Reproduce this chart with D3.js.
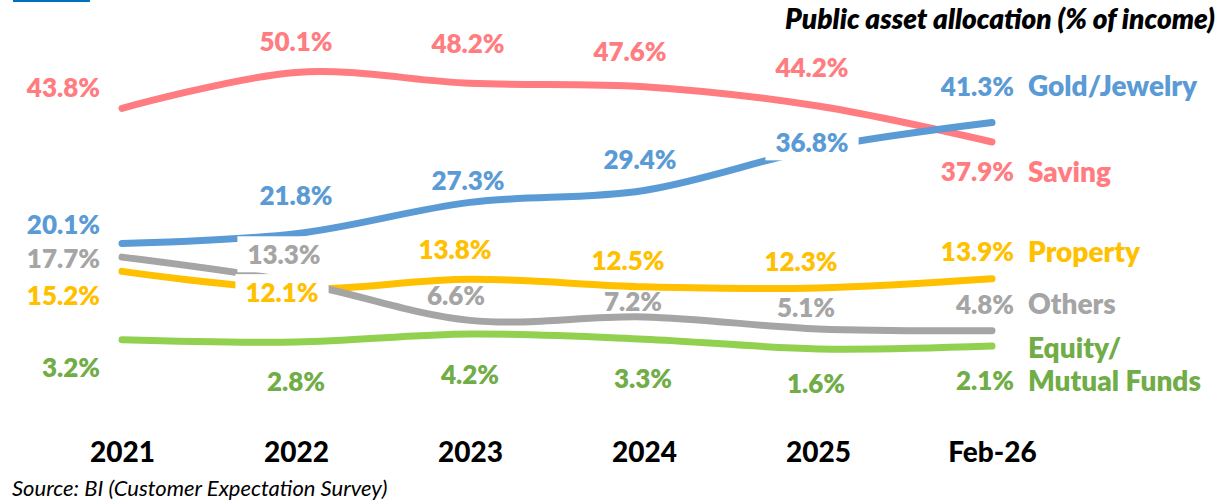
<!DOCTYPE html>
<html>
<head>
<meta charset="utf-8">
<style>
body { margin: 0; background: #fff; }
svg { display: block; font-family: Lato, "Open Sans", sans-serif; }
</style>
</head>
<body>
<svg id="chart" width="1229" height="504"></svg>
<script src="https://d3js.org/d3.v7.min.js"></script>
<script>

// data
const years = ["2021", "2022", "2023", "2024", "2025", "Feb-26"];
const saving = [43.8, 50.1, 48.2, 47.6, 44.2, 37.9];
const gold = [20.1, 21.8, 27.3, 29.4, 36.8, 41.3];
const property = [15.2, 12.1, 13.8, 12.5, 12.3, 13.9];
const others = [17.7, 13.3, 6.6, 7.2, 5.1, 4.8];
const equity = [3.2, 2.8, 4.2, 3.3, 1.6, 2.1];
const seriesNames = ["Saving", "Gold/Jewelry", "Property", "Others", "Equity/|Mutual Funds"];

const title = "Public asset allocation (% of income)";
const source = "Source: BI (Customer Expectation Survey)";

// label nudges (label centre relative to the point), like the hand placed excel labels
const nudges = {
    "Saving":       [[0, -20], [0, -31], [-2, -39], [-14, -35], [-6, -38], [0, 30]],
    "Gold/Jewelry": [[0, -19], [0, -38], [-2, -21], [-4, -31], [-6, -5], [0, -36]],
    "Property":     [[0, 25], [-14, 4], [-15, -29], [-16, -26], [-17, -26], [0, -27]],
    "Others":       [[0, 2], [-12, -27], [-14, -24], [-11, -15], [-12, -21], [0, -26]],
    "Equity/|Mutual Funds": [[0, 28], [0, 40], [0, 41], [-1, 40], [-2, 35], [0, 35]]
};
// labels that sit on a white box covering the line
const boxed = { "Gold/Jewelry": [4], "Property": [1], "Others": [1] };

let series = [
    { name: seriesNames[0], values: saving,   line: "#ff7c80", text: "#ff7c80" },
    { name: seriesNames[1], values: gold,     line: "#5b9bd5", text: "#5b9bd5" },
    { name: seriesNames[2], values: property, line: "#ffc000", text: "#ffc000" },
    { name: seriesNames[3], values: others,   line: "#a5a5a5", text: "#a5a5a5" },
    { name: seriesNames[4], values: equity,   line: "#92d050", text: "#70ad47" }
];

let svg = d3.select("#chart");

let xScale = d3.scalePoint()
    .domain(years)
    .range([122, 992]);
let yScale = d3.scaleLinear()
    .domain([0, 50])
    .range([358, 73]);

let line = d3.line()
    .x((d, i) => xScale(years[i]))
    .y(d => yScale(d))
    .curve(d3.curveCardinal.tension(0));

// little blue mark top-left
svg.append("rect")
    .attr("x", 13).attr("y", 0)
    .attr("width", 77).attr("height", 2)
    .attr("fill", "#0070c0");

// blue drawn after red so it sits on top where they cross
svg.append("g")
    .selectAll("path")
    .data(series)
    .join("path")
    .attr("d", d => line(d.values))
    .attr("fill", "none")
    .attr("stroke", d => d.line)
    .attr("stroke-width", 7)
    .attr("stroke-linecap", "round");

// x axis (labels only)
let xAxis = svg.append("g")
    .attr("transform", "translate(0,452)")
    .call(d3.axisBottom(xScale).tickSize(0).tickPadding(0));
xAxis.select(".domain").remove();
xAxis.selectAll("text")
    .attr("dy", "0.35em")
    .attr("y", 0)
    .attr("fill", "#000")
    .style("font-family", "Lato, sans-serif")
    .style("font-weight", "900")
    .style("font-size", "28px");

// data labels
let labelLayer = svg.append("g")
    .style("font-weight", "800")
    .style("font-size", "26px");

series.forEach(s => {
    s.values.forEach((v, i) => {
        let n = nudges[s.name][i];
        let last = i === years.length - 1;
        let x = xScale(years[i]);
        let y = yScale(v) + n[1];
        let anchor = "middle";
        if (i === 0) { x = x - 22; anchor = "end"; }
        else if (last) { x = x + 22; anchor = "end"; }
        else { x = x + n[0]; }

        let t = labelLayer.append("text")
            .attr("x", x)
            .attr("y", y)
            .attr("dy", "0.35em")
            .attr("text-anchor", anchor)
            .attr("fill", s.text)
            .text(v.toFixed(1) + "%");

        if ((boxed[s.name] || []).includes(i)) {
            let b = t.node().getBBox();
            labelLayer.insert("rect", () => t.node())
                .attr("x", b.x - 10).attr("y", b.y - 2)
                .attr("width", b.width + 20).attr("height", b.height + 4)
                .attr("fill", "#fff");
        }
    });

    // series name after the last value
    let parts = s.name.split("|");
    let lastY = yScale(s.values[s.values.length - 1]) + nudges[s.name][years.length - 1][1];
    parts.forEach((p, k) => {
        labelLayer.append("text")
            .attr("x", xScale(years[years.length - 1]) + 36)
            .attr("y", lastY - (parts.length - 1 - k) * 33)
            .attr("dy", "0.35em")
            .attr("fill", s.text)
            .style("font-size", "28px")
            .text(p);
    });
});

svg.append("text")
    .attr("x", 1215)
    .attr("y", 19)
    .attr("dy", "0.35em")
    .attr("text-anchor", "end")
    .style("font-weight", "800")
    .style("font-style", "italic")
    .style("font-size", "28px")
    .attr("fill", "#000")
    .text(title);

svg.append("text")
    .attr("x", 12)
    .attr("y", 488)
    .attr("dy", "0.35em")
    .style("font-style", "italic")
    .style("font-size", "22px")
    .attr("fill", "#000")
    .text(source);

</script>
</body>
</html>
